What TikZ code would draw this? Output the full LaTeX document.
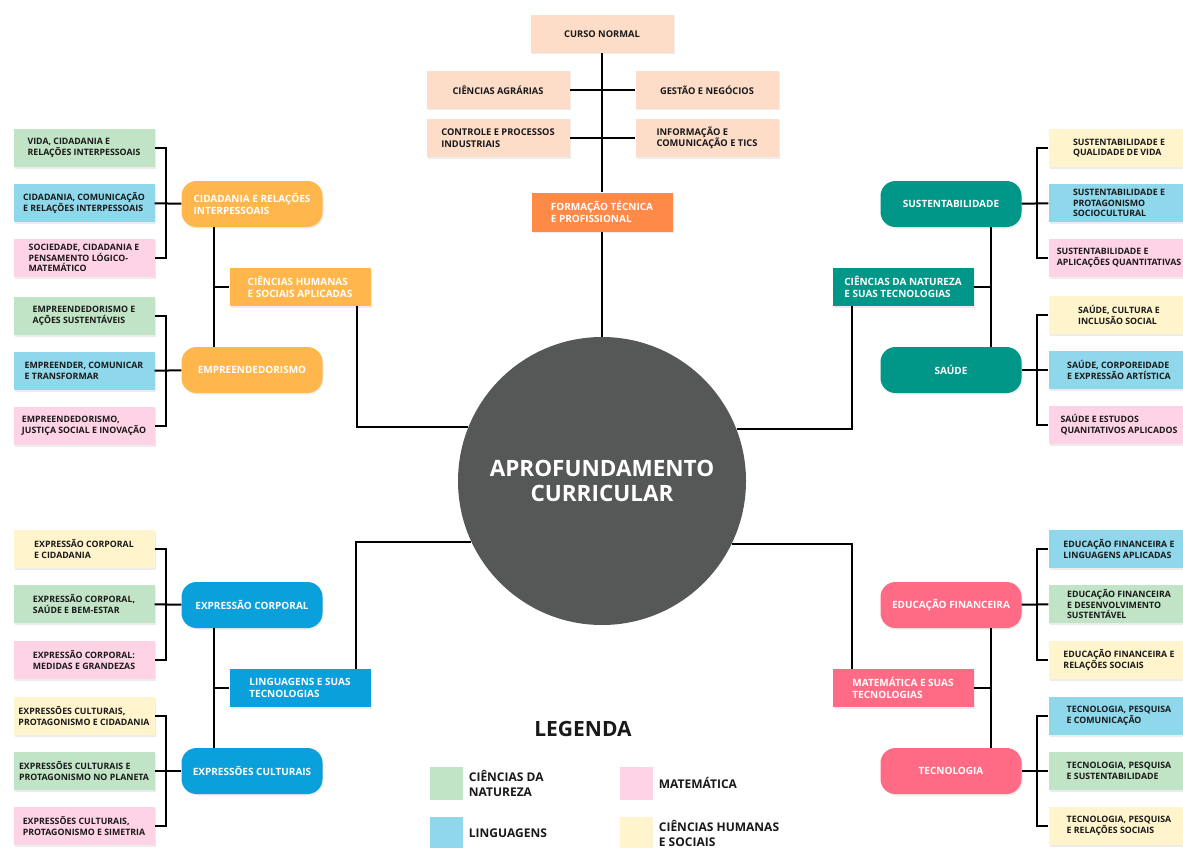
\documentclass[tikz,border=0pt]{standalone}
\usepackage{fontspec}
\setmainfont{Open Sans}
\usepackage{tikz}
\usetikzlibrary{positioning,shadows}

\definecolor{peach}{HTML}{FDDCC8}
\definecolor{ftporange}{HTML}{FF8A47}
\definecolor{lgreen}{HTML}{C1E4C6}
\definecolor{lblue}{HTML}{8FD7EA}
\definecolor{lpink}{HTML}{FFD3E6}
\definecolor{lyellow}{HTML}{FFF4CC}
\definecolor{chsorange}{HTML}{FFB74D}
\definecolor{cnteal}{HTML}{009688}
\definecolor{lgblue}{HTML}{0AA0DB}
\definecolor{mtpink}{HTML}{FF6B84}
\definecolor{hubgray}{HTML}{565858}

\begin{document}
\begin{tikzpicture}[x=1pt, y=-1pt]
  \tikzset{
    boxshadow/.style={drop shadow={opacity=0.15,shadow xshift=1pt,shadow yshift=-1.5pt}},
    leaf/.style={minimum width=141pt,minimum height=38pt,inner sep=2pt,
                 align=left,text=black!90,boxshadow,
                 font=\bfseries\fontsize{8.8}{10.8}\selectfont},
    peach/.style={leaf,fill=peach,minimum width=143pt,
                  font=\bfseries\fontsize{9.3}{11.5}\selectfont},
    area/.style={minimum width=141pt,minimum height=38pt,inner sep=2pt,
                 align=left,text=white,boxshadow,
                 font=\bfseries\fontsize{10}{12.5}\selectfont},
    track/.style={area,rounded corners=15pt,minimum height=46pt},
    hub/.style={circle,fill=hubgray,minimum size=288pt,inner sep=0pt,
                align=center,text=white,
                font=\bfseries\fontsize{22.5}{25}\selectfont},
    link/.style={draw=black,line width=2pt},
    key/.style={minimum size=33pt,inner sep=0pt},
    keytxt/.style={inner sep=0pt,align=left,text=black!90,
                   font=\bfseries\fontsize{12}{15}\selectfont}
  }
  \useasboundingbox (0,0) rectangle (1183,848);
  \fill[white] (0,0) rectangle (1183,848);

  % Centre
  \node[hub] (circ) at (602,481) {APROFUNDAMENTO\\CURRICULAR};

  % Formacao tecnica e profissional
  \node[peach] (cn)  at (602,34)  {CURSO NORMAL};
  \node[peach] (ca)  at (498,90)  {CIÊNCIAS AGRÁRIAS};
  \node[peach] (gn)  at (707,90)  {GESTÃO E NEGÓCIOS};
  \node[peach] (cpi) at (498,138) {CONTROLE E PROCESSOS\\INDUSTRIAIS};
  \node[peach] (ict) at (707,138) {INFORMAÇÃO E\\COMUNICAÇÃO E TICS};
  \node[area,fill=ftporange,minimum height=39pt] (ftp) at (602,212)
    {FORMAÇÃO TÉCNICA\\E PROFISSIONAL};
  \draw[link] (cn) -- (ftp);
  \draw[link] (ca) -- (gn);
  \draw[link] (cpi) -- (ict);
  \draw[link] (ftp.south) -- (circ.north);

  % Ciencias humanas e sociais aplicadas
  \node[track,fill=chsorange] (cir) at (252,204) {CIDADANIA E RELAÇÕES\\INTERPESSOAIS};
  \node[track,fill=chsorange] (emp) at (252,370) {EMPREENDEDORISMO};
  \node[area,fill=chsorange] (chs) at (300,287) {CIÊNCIAS HUMANAS\\E SOCIAIS APLICADAS};
  \node[leaf,fill=lgreen] (cir1) at (84,148) {VIDA, CIDADANIA E\\RELAÇÕES INTERPESSOAIS};
  \node[leaf,fill=lblue]  (cir2) at (84,203) {CIDADANIA, COMUNICAÇÃO\\E RELAÇÕES INTERPESSOAIS};
  \node[leaf,fill=lpink]  (cir3) at (84,258) {SOCIEDADE, CIDADANIA E\\PENSAMENTO LÓGICO-\\MATEMÁTICO};
  \node[leaf,fill=lgreen] (emp1) at (84,316) {EMPREENDEDORISMO E\\AÇÕES SUSTENTÁVEIS};
  \node[leaf,fill=lblue]  (emp2) at (84,371) {EMPREENDER, COMUNICAR\\E TRANSFORMAR};
  \node[leaf,fill=lpink]  (emp3) at (84,426) {EMPREENDEDORISMO,\\JUSTIÇA SOCIAL E INOVAÇÃO};
  \draw[link] (cir1.east) -- ++(11,0) |- (cir3.east);
  \draw[link] (cir2) -- (cir);
  \draw[link] (emp1.east) -- ++(11,0) |- (emp3.east);
  \draw[link] (emp2) -- (emp);
  \draw[link] ([xshift=-38pt]cir.south) -- ([xshift=-38pt]emp.north);
  \draw[link] (chs.west) -- ++(-15.5,0);
  \draw[link] ([xshift=57pt]chs.south) |- (circ.158);

  % Ciencias da natureza e suas tecnologias
  \node[track,fill=cnteal] (sus) at (951,204) {SUSTENTABILIDADE};
  \node[track,fill=cnteal] (sau) at (951,370) {SAÚDE};
  \node[area,fill=cnteal] (cnt) at (903,287) {CIÊNCIAS DA NATUREZA\\E SUAS TECNOLOGIAS};
  \node[leaf,fill=lyellow] (sus1) at (1119,148) {SUSTENTABILIDADE E\\QUALIDADE DE VIDA};
  \node[leaf,fill=lblue]   (sus2) at (1119,203) {SUSTENTABILIDADE E\\PROTAGONISMO\\SOCIOCULTURAL};
  \node[leaf,fill=lpink]   (sus3) at (1119,258) {SUSTENTABILIDADE E\\APLICAÇÕES QUANTITATIVAS};
  \node[leaf,fill=lyellow] (sau1) at (1119,315) {SAÚDE, CULTURA E\\INCLUSÃO SOCIAL};
  \node[leaf,fill=lblue]   (sau2) at (1119,370) {SAÚDE, CORPOREIDADE\\E EXPRESSÃO ARTÍSTICA};
  \node[leaf,fill=lpink]   (sau3) at (1119,425) {SAÚDE E ESTUDOS\\QUANITATIVOS APLICADOS};
  \draw[link] (sus1.west) -- ++(-11,0) |- (sus3.west);
  \draw[link] (sus2) -- (sus);
  \draw[link] (sau1.west) -- ++(-11,0) |- (sau3.west);
  \draw[link] (sau2) -- (sau);
  \draw[link] ([xshift=40pt]sus.south) -- ([xshift=40pt]sau.north);
  \draw[link] (cnt.east) -- ++(17.5,0);
  \draw[link] ([xshift=-51pt]cnt.south) |- (circ.21);

  % Linguagens e suas tecnologias
  \node[track,fill=lgblue] (exc) at (252,605) {EXPRESSÃO CORPORAL};
  \node[track,fill=lgblue] (exs) at (252,771) {EXPRESSÕES CULTURAIS};
  \node[area,fill=lgblue] (lgt) at (300,688) {LINGUAGENS E SUAS\\TECNOLOGIAS};
  \node[leaf,fill=lyellow] (exc1) at (84,549) {EXPRESSÃO CORPORAL\\E CIDADANIA};
  \node[leaf,fill=lgreen]  (exc2) at (84,604) {EXPRESSÃO CORPORAL,\\SAÚDE E BEM-ESTAR};
  \node[leaf,fill=lpink]   (exc3) at (84,660) {EXPRESSÃO CORPORAL:\\MEDIDAS E GRANDEZAS};
  \node[leaf,fill=lyellow] (exs1) at (84,716) {EXPRESSÕES CULTURAIS,\\PROTAGONISMO E CIDADANIA};
  \node[leaf,fill=lgreen]  (exs2) at (84,771) {EXPRESSÕES CULTURAIS E\\PROTAGONISMO NO PLANETA};
  \node[leaf,fill=lpink]   (exs3) at (84,826) {EXPRESSÕES CULTURAIS,\\PROTAGONISMO E SIMETRIA};
  \draw[link] (exc1.east) -- ++(11,0) |- (exc3.east);
  \draw[link] (exc2) -- (exc);
  \draw[link] (exs1.east) -- ++(11,0) |- (exs3.east);
  \draw[link] (exs2) -- (exs);
  \draw[link] ([xshift=-38pt]exc.south) -- ([xshift=-38pt]exs.north);
  \draw[link] (lgt.west) -- ++(-15.5,0);
  \draw[link] ([xshift=56pt]lgt.north) |- (circ.205);

  % Matematica e suas tecnologias
  \node[track,fill=mtpink] (edf) at (951,605) {EDUCAÇÃO FINANCEIRA};
  \node[track,fill=mtpink] (tec) at (951,771) {TECNOLOGIA};
  \node[area,fill=mtpink] (mat) at (903,688) {MATEMÁTICA E SUAS\\TECNOLOGIAS};
  \node[leaf,fill=lblue]   (edf1) at (1119,549) {EDUCAÇÃO FINANCEIRA E\\LINGUAGENS APLICADAS};
  \node[leaf,fill=lgreen]  (edf2) at (1119,604) {EDUCAÇÃO FINANCEIRA\\E DESENVOLVIMENTO\\SUSTENTÁVEL};
  \node[leaf,fill=lyellow] (edf3) at (1119,660) {EDUCAÇÃO FINANCEIRA E\\RELAÇÕES SOCIAIS};
  \node[leaf,fill=lblue]   (tec1) at (1119,716) {TECNOLOGIA, PESQUISA\\E COMUNICAÇÃO};
  \node[leaf,fill=lgreen]  (tec2) at (1119,771) {TECNOLOGIA, PESQUISA\\E SUSTENTABILIDADE};
  \node[leaf,fill=lyellow] (tec3) at (1119,826) {TECNOLOGIA, PESQUISA\\E RELAÇÕES SOCIAIS};
  \draw[link] (edf1.west) -- ++(-11,0) |- (edf3.west);
  \draw[link] (edf2) -- (edf);
  \draw[link] (tec1.west) -- ++(-11,0) |- (tec3.west);
  \draw[link] (tec2) -- (tec);
  \draw[link] ([xshift=40pt]edf.south) -- ([xshift=40pt]tec.north);
  \draw[link] (mat.east) -- ++(17.5,0);
  \draw[link] ([xshift=-51pt]mat.north) |- (circ.334);

  % Legend
  \node[text=black!90,font=\bfseries\fontsize{21}{24}\selectfont] (leg) at (583,729) {LEGENDA};
  \node[key,fill=lgreen]  (kcn) at (446,783) {};
  \node[keytxt,right=6pt of kcn] (kcnt) {CIÊNCIAS DA\\NATUREZA};
  \node[key,fill=lpink]   (kmt) at (636,783) {};
  \node[keytxt,right=6pt of kmt] (kmtt) {MATEMÁTICA};
  \node[key,fill=lblue]   (klg) at (446,833) {};
  \node[keytxt,right=6pt of klg] (klgt) {LINGUAGENS};
  \node[key,fill=lyellow] (kch) at (636,833) {};
  \node[keytxt,right=6pt of kch] (kcht) {CIÊNCIAS HUMANAS\\E SOCIAIS};
\end{tikzpicture}
\end{document}
